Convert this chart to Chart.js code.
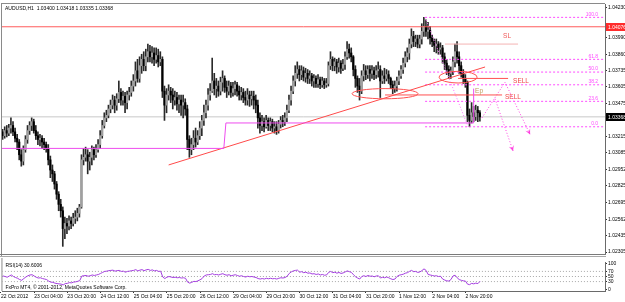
<!DOCTYPE html>
<html lang="en">
<head>
<meta charset="UTF-8">
<title>AUDUSD,H1</title>
<script src="https://cdn.jsdelivr.net/npm/chart.js"></script>
<style>
    body { margin: 0; padding: 0; background: #fff; }
    #wrap { position: relative; width: 625px; height: 302px; }
    #main-box { position: absolute; left: 0; top: 0; width: 625px; height: 258px; }
    #rsi-box { position: absolute; left: 0; top: 258px; width: 625px; height: 44px; }
</style>
</head>
<body>
<div id="wrap">
    <div id="main-box"><canvas id="priceChart"></canvas></div>
    <div id="rsi-box"><canvas id="rsiChart"></canvas></div>
</div>
<script>
// AUDUSD H1 bars, 22 Oct 2012 12:00 onwards (one entry per hour)
const open = [
 1.0321,1.0325,1.0322,1.0326,1.0324,1.0328,1.0330,1.0325,1.0320,1.0317,
 1.0307,1.0302,1.0311,1.0319,1.0326,1.0330,1.0333,1.0326,1.0322,1.0319,
 1.0320,1.0317,1.0315,1.0312,1.0303,1.0295,1.0292,1.0284,1.0276,1.0268,
 1.0263,1.0249,1.0253,1.0251,1.0255,1.0253,1.0257,1.0258,1.0261,1.0266,
 1.0303,1.0305,1.0307,1.0302,1.0305,1.0311,1.0307,1.0311,1.0315,1.0322,
 1.0330,1.0336,1.0338,1.0343,1.0346,1.0350,1.0346,1.0351,1.0356,1.0350,
 1.0353,1.0348,1.0354,1.0356,1.0361,1.0365,1.0373,1.0367,1.0377,1.0382,
 1.0377,1.0384,1.0388,1.0384,1.0387,1.0382,1.0385,1.0380,1.0382,1.0357,
 1.0346,1.0354,1.0357,1.0354,1.0350,1.0352,1.0347,1.0350,1.0346,1.0348,
 1.0343,1.0319,1.0311,1.0315,1.0320,1.0317,1.0322,1.0328,1.0334,1.0340,
 1.0346,1.0354,1.0357,1.0365,1.0359,1.0361,1.0357,1.0364,1.0367,1.0360,
 1.0357,1.0361,1.0356,1.0359,1.0362,1.0357,1.0354,1.0356,1.0352,1.0350,
 1.0354,1.0351,1.0353,1.0350,1.0346,1.0336,1.0330,1.0333,1.0329,1.0334,
 1.0330,1.0333,1.0328,1.0329,1.0326,1.0331,1.0334,1.0333,1.0336,1.0342,
 1.0350,1.0357,1.0365,1.0371,1.0374,1.0370,1.0373,1.0368,1.0371,1.0367,
 1.0369,1.0365,1.0367,1.0363,1.0366,1.0362,1.0365,1.0362,1.0363,1.0377,
 1.0382,1.0377,1.0380,1.0376,1.0379,1.0375,1.0378,1.0384,1.0390,1.0387,
 1.0384,1.0374,1.0367,1.0361,1.0357,1.0369,1.0373,1.0370,1.0374,1.0371,
 1.0373,1.0370,1.0373,1.0374,1.0365,1.0369,1.0367,1.0370,1.0367,1.0362,
 1.0359,1.0361,1.0365,1.0369,1.0374,1.0379,1.0384,1.0387,1.0394,1.0400,
 1.0396,1.0398,1.0394,1.0398,1.0404,1.0408,1.0404,1.0405,1.0399,1.0396,
 1.0393,1.0394,1.0390,1.0391,1.0384,1.0379,1.0374,1.0371,1.0373,1.0380,
 1.0388,1.0384,1.0377,1.0371,1.0367,1.0364,1.0338,1.0334,1.0340,1.0337,
 1.0342,1.03400
];
const high = [
 1.0328,1.0327,1.0329,1.0330,1.0331,1.0336,1.0333,1.0328,1.0323,1.0319,
 1.0311,1.0314,1.0322,1.0330,1.0333,1.0336,1.0335,1.0330,1.0325,1.0323,
 1.0322,1.0320,1.0317,1.0315,1.0306,1.0299,1.0294,1.0286,1.0278,1.0272,
 1.0266,1.0258,1.0257,1.0259,1.0258,1.0261,1.0263,1.0265,1.0268,1.0307,
 1.0312,1.0313,1.0311,1.0309,1.0314,1.0313,1.0315,1.0319,1.0326,1.0334,
 1.0340,1.0342,1.0346,1.0350,1.0354,1.0353,1.0355,1.0365,1.0359,1.0357,
 1.0356,1.0357,1.0360,1.0365,1.0370,1.0380,1.0382,1.0384,1.0386,1.0388,
 1.0390,1.0394,1.0393,1.0392,1.0391,1.0391,1.0390,1.0388,1.0384,1.0361,
 1.0359,1.0362,1.0360,1.0359,1.0357,1.0356,1.0354,1.0354,1.0354,1.0351,
 1.0346,1.0322,1.0320,1.0326,1.0328,1.0326,1.0333,1.0338,1.0346,1.0350,
 1.0359,1.0363,1.0383,1.0371,1.0367,1.0365,1.0368,1.0373,1.0369,1.0365,
 1.0365,1.0364,1.0364,1.0365,1.0364,1.0361,1.0360,1.0359,1.0357,1.0359,
 1.0357,1.0357,1.0357,1.0354,1.0350,1.0340,1.0338,1.0336,1.0338,1.0336,
 1.0336,1.0335,1.0333,1.0333,1.0334,1.0337,1.0338,1.0340,1.0346,1.0354,
 1.0361,1.0369,1.0377,1.0380,1.0377,1.0377,1.0376,1.0375,1.0374,1.0373,
 1.0371,1.0370,1.0369,1.0370,1.0368,1.0368,1.0367,1.0367,1.0380,1.0388,
 1.0384,1.0383,1.0382,1.0383,1.0381,1.0382,1.0388,1.0396,1.0394,1.0391,
 1.0385,1.0377,1.0369,1.0367,1.0373,1.0378,1.0377,1.0377,1.0377,1.0377,
 1.0376,1.0377,1.0380,1.0377,1.0373,1.0375,1.0374,1.0373,1.0368,1.0365,
 1.0365,1.0368,1.0373,1.0377,1.0383,1.0388,1.0391,1.0398,1.0406,1.0404,
 1.0401,1.0401,1.0401,1.0410,1.0415,1.0413,1.0411,1.0408,1.0401,1.0398,
 1.0398,1.0396,1.0395,1.0393,1.0387,1.0382,1.0377,1.0376,1.0384,1.0394,
 1.0396,1.0388,1.0380,1.0374,1.0370,1.0365,1.0343,1.0348,1.0345,1.0346,
 1.0345,1.03418
];
const low = [
 1.0319,1.0319,1.0320,1.0321,1.0322,1.0324,1.0322,1.0317,1.0311,1.0303,
 1.0298,1.0299,1.0309,1.0316,1.0323,1.0326,1.0324,1.0319,1.0315,1.0314,
 1.0312,1.0311,1.0309,1.0299,1.0289,1.0286,1.0280,1.0272,1.0263,1.0258,
 1.0235,1.0241,1.0245,1.0248,1.0249,1.0251,1.0253,1.0255,1.0258,1.0265,
 1.0299,1.0302,1.0292,1.0295,1.0299,1.0303,1.0305,1.0309,1.0312,1.0320,
 1.0328,1.0333,1.0336,1.0340,1.0343,1.0340,1.0342,1.0348,1.0346,1.0346,
 1.0340,1.0343,1.0350,1.0353,1.0357,1.0361,1.0364,1.0364,1.0371,1.0373,
 1.0373,1.0380,1.0380,1.0379,1.0377,1.0379,1.0376,1.0377,1.0352,1.0334,
 1.0340,1.0350,1.0348,1.0343,1.0346,1.0342,1.0340,1.0338,1.0336,1.0338,
 1.0311,1.0305,1.0307,1.0311,1.0313,1.0315,1.0319,1.0322,1.0330,1.0336,
 1.0342,1.0350,1.0356,1.0354,1.0352,1.0353,1.0354,1.0357,1.0356,1.0352,
 1.0354,1.0352,1.0353,1.0354,1.0353,1.0350,1.0350,1.0348,1.0346,1.0346,
 1.0345,1.0346,1.0343,1.0340,1.0328,1.0324,1.0326,1.0325,1.0328,1.0326,
 1.0326,1.0325,1.0324,1.0323,1.0324,1.0328,1.0329,1.0330,1.0333,1.0340,
 1.0346,1.0355,1.0361,1.0367,1.0365,1.0366,1.0365,1.0364,1.0363,1.0363,
 1.0361,1.0360,1.0360,1.0360,1.0359,1.0360,1.0359,1.0360,1.0361,1.0374,
 1.0373,1.0373,1.0371,1.0372,1.0371,1.0373,1.0374,1.0382,1.0383,1.0380,
 1.0369,1.0360,1.0356,1.0350,1.0355,1.0365,1.0366,1.0367,1.0365,1.0367,
 1.0366,1.0367,1.0368,1.0352,1.0363,1.0363,1.0365,1.0363,1.0359,1.0355,
 1.0356,1.0357,1.0362,1.0367,1.0371,1.0376,1.0380,1.0382,1.0391,1.0392,
 1.0392,1.0391,1.0391,1.0394,1.0400,1.0400,1.0398,1.0394,1.0392,1.0388,
 1.0387,1.0386,1.0386,1.0379,1.0374,1.0370,1.0367,1.0367,1.0370,1.0376,
 1.0379,1.0371,1.0368,1.0363,1.0360,1.0333,1.0329,1.0332,1.0333,1.0334,
 1.0333,1.03335
];
const close = [
 1.0325,1.0322,1.0326,1.0324,1.0328,1.0330,1.0325,1.0320,1.0317,1.0307,
 1.0302,1.0311,1.0319,1.0326,1.0330,1.0333,1.0326,1.0322,1.0319,1.0320,
 1.0317,1.0315,1.0312,1.0303,1.0295,1.0292,1.0284,1.0276,1.0268,1.0263,
 1.0249,1.0253,1.0251,1.0255,1.0253,1.0257,1.0258,1.0261,1.0266,1.0303,
 1.0305,1.0307,1.0302,1.0305,1.0311,1.0307,1.0311,1.0315,1.0322,1.0330,
 1.0336,1.0338,1.0343,1.0346,1.0350,1.0346,1.0351,1.0356,1.0350,1.0353,
 1.0348,1.0354,1.0356,1.0361,1.0365,1.0373,1.0367,1.0377,1.0382,1.0377,
 1.0384,1.0388,1.0384,1.0387,1.0382,1.0385,1.0380,1.0382,1.0357,1.0346,
 1.0354,1.0357,1.0354,1.0350,1.0352,1.0347,1.0350,1.0346,1.0348,1.0343,
 1.0319,1.0311,1.0315,1.0320,1.0317,1.0322,1.0328,1.0334,1.0340,1.0346,
 1.0354,1.0357,1.0365,1.0359,1.0361,1.0357,1.0364,1.0367,1.0360,1.0357,
 1.0361,1.0356,1.0359,1.0362,1.0357,1.0354,1.0356,1.0352,1.0350,1.0354,
 1.0351,1.0353,1.0350,1.0346,1.0336,1.0330,1.0333,1.0329,1.0334,1.0330,
 1.0333,1.0328,1.0329,1.0326,1.0331,1.0334,1.0333,1.0336,1.0342,1.0350,
 1.0357,1.0365,1.0371,1.0374,1.0370,1.0373,1.0368,1.0371,1.0367,1.0369,
 1.0365,1.0367,1.0363,1.0366,1.0362,1.0365,1.0362,1.0363,1.0377,1.0382,
 1.0377,1.0380,1.0376,1.0379,1.0375,1.0378,1.0384,1.0390,1.0387,1.0384,
 1.0374,1.0367,1.0361,1.0357,1.0369,1.0373,1.0370,1.0374,1.0371,1.0373,
 1.0370,1.0373,1.0374,1.0365,1.0369,1.0367,1.0370,1.0367,1.0362,1.0359,
 1.0361,1.0365,1.0369,1.0374,1.0379,1.0384,1.0387,1.0394,1.0400,1.0396,
 1.0398,1.0394,1.0398,1.0404,1.0408,1.0404,1.0405,1.0399,1.0396,1.0393,
 1.0394,1.0390,1.0391,1.0384,1.0379,1.0374,1.0371,1.0373,1.0380,1.0388,
 1.0384,1.0377,1.0371,1.0367,1.0364,1.0338,1.0334,1.0340,1.0337,1.0342,
 1.03400,1.03368
];
// RSI(14) per bar
const rsi = [
 48,52,50,47,52,56,50,46,43,38,
 35,42,48,53,56,57,52,47,44,45,
 42,40,38,32,28,27,24,22,21,20,
 17,22,23,26,25,28,29,31,34,52,
 53,54,51,53,56,54,56,58,62,66,
 70,71,73,74,75,71,73,74,70,71,
 67,70,71,73,74,77,72,75,77,73,
 76,78,74,76,72,74,70,71,48,42,
 47,50,48,46,47,45,46,44,45,43,
 28,24,27,31,30,33,37,42,52,56,
 57,58,61,57,58,56,59,61,57,55,
 57,53,55,57,54,51,53,50,48,51,
 49,50,48,46,42,40,42,40,43,41,
 43,41,42,40,43,45,44,46,51,62,
 68,72,74,75,67,69,65,67,63,64,
 60,61,58,60,56,58,55,56,66,70,
 65,67,63,66,62,64,68,72,69,66,
 57,49,44,40,50,53,50,54,51,52,
 49,52,53,44,47,45,48,45,41,38,
 40,50,55,57,59,63,65,70,74,69,
 70,66,68,73,80,74,58,56,54,52,
 53,50,51,40,36,33,32,38,52,55,
 45,38,35,33,32,20,18,23,21,24,
 22,30.6006
];

const symbol = 'AUDUSD';
const period = 'H1';
const timeTicks = [0, 16, 32, 48, 64, 80, 96, 112, 128, 144, 160, 176, 192, 208, 224];
const timeLabels = ['22 Oct 2012', '23 Oct 04:00', '23 Oct 20:00', '24 Oct 12:00', '25 Oct 04:00',
    '25 Oct 20:00', '26 Oct 12:00', '29 Oct 04:00', '29 Oct 20:00', '30 Oct 12:00',
    '31 Oct 04:00', '31 Oct 20:00', '1 Nov 12:00', '2 Nov 04:00', '2 Nov 20:00'];
const priceTicks = [1.04230, 1.03990, 1.03860, 1.03735, 1.03605, 1.03475, 1.03215, 1.03085,
    1.02952, 1.02825, 1.02695, 1.02562, 1.02435, 1.02305];
const rsiTicks = [0, 30, 50, 70, 100];
const rsiLevels = [30, 50, 70];

// objects drawn on the chart (x = bar number, y = price)
const trendLine = [{ x: 81, y: 1.0299 }, { x: 233.5, y: 1.0376 }];
const stopLine = [{ x: 0, y: 1.0312 }, { x: 107.6, y: 1.0312 }, { x: 108.6, y: 1.0332 },
    { x: 228, y: 1.0332 }, { x: 228, y: 1.0359 }];
const redLevel = 1.04076;
const slLine = [{ x: 214.2, y: 1.0394 }, { x: 249.4, y: 1.0394 }];
const sellLineHigh = [{ x: 220.5, y: 1.0367 }, { x: 244.6, y: 1.0367 }];
const sellLineLow = [{ x: 185.3, y: 1.0354 }, { x: 241.7, y: 1.0354 }];
const fibLevels = [1.0415, 1.0382, 1.0372, 1.0362, 1.0349, 1.0329];
const fibNames = ['100.0', '61.8', '50.0', '38.2', '23.6', '0.0'];
const fibStart = 204.6;
const fibLabelAt = 288;
const fibDiagonal = [{ x: 204.6, y: 1.0415 }, { x: 225.3, y: 1.0329 }];
const arrowPathA = [{ x: 232, y: 1.0336 }, { x: 243.1, y: 1.0364 }, { x: 255.2, y: 1.0323 }];
const arrowPathB = [{ x: 238.3, y: 1.0351 }, { x: 247, y: 1.0310 }];
const ellipses = [
    { x: 185.3, y: 1.0355, rx: 15.9, ry: 0.00040 },
    { x: 220.5, y: 1.0368, rx: 9.2, ry: 0.00046 }
];
const notes = [
    { text: 'SL', x: 242.2, y: 1.0400, color: '#f05a5a' },
    { text: 'SELL', x: 247.0, y: 1.0365, color: '#f04848' },
    { text: 'SELL', x: 243.1, y: 1.0352, color: '#f04848' },
    { text: 'Ep', x: 228.7, y: 1.0357, color: '#c09a5a' }
];

const FONT = '"Liberation Sans", Arial, sans-serif';
Chart.defaults.font.family = FONT;
Chart.defaults.font.size = 5;
Chart.defaults.color = '#000';

const xMin = 0.7, xMax = 291.3;
const lastBar = close.length - 1;

const bodyData = open.map((o, i) => ({ x: i, y: [o, close[i]] }));
const wickData = low.map((l, i) => ({ x: i, y: [l, high[i]] }));
const bodyColors = open.map((o, i) => close[i] > o ? '#a0a0a0' : '#000000');

function hLine(price, from, to) {
    return [{ x: from, y: price }, { x: to, y: price }];
}

function lineSet(data, color, extra) {
    return Object.assign({
        type: 'line', data: data, borderColor: color, borderWidth: 1,
        pointRadius: 0, fill: false, tension: 0, order: 0
    }, extra || {});
}

const fibSets = fibLevels.map(v => lineSet(hLine(v, fibStart, xMax + 1), '#ff4cff', { borderDash: [2, 2] }));

const mainDecor = {
    id: 'mainDecor',
    afterDatasetsDraw(chart) {
        const { ctx, chartArea: a, scales: { x, y } } = chart;
        ctx.save();
        ctx.beginPath();
        ctx.rect(a.left, a.top, a.right - a.left, a.bottom - a.top);
        ctx.clip();

        // ellipses
        ctx.strokeStyle = '#ff5050';
        ctx.lineWidth = 1;
        ellipses.forEach(e => {
            const cx = x.getPixelForValue(e.x), cy = y.getPixelForValue(e.y);
            const rx = Math.abs(x.getPixelForValue(e.x + e.rx) - cx);
            const ry = Math.abs(y.getPixelForValue(e.y + e.ry) - cy);
            ctx.beginPath();
            ctx.ellipse(cx, cy, rx, ry, 0, 0, Math.PI * 2);
            ctx.stroke();
        });

        // arrow heads at the end of the arrow paths
        chart.data.datasets.forEach((ds, di) => {
            if (!ds.arrowHead) return;
            const pts = chart.getDatasetMeta(di).data;
            const p1 = pts[pts.length - 2], p2 = pts[pts.length - 1];
            const ang = Math.atan2(p2.y - p1.y, p2.x - p1.x);
            ctx.beginPath();
            ctx.moveTo(p2.x, p2.y);
            ctx.lineTo(p2.x - 6 * Math.cos(ang - 0.45), p2.y - 6 * Math.sin(ang - 0.45));
            ctx.lineTo(p2.x - 3 * Math.cos(ang), p2.y - 3 * Math.sin(ang));
            ctx.lineTo(p2.x - 6 * Math.cos(ang + 0.45), p2.y - 6 * Math.sin(ang + 0.45));
            ctx.closePath();
            ctx.fillStyle = ds.borderColor;
            ctx.fill();
        });

        // fibo level names
        ctx.font = '5px ' + FONT;
        ctx.fillStyle = '#ff4cff';
        ctx.textAlign = 'right';
        ctx.textBaseline = 'bottom';
        fibLevels.forEach((v, i) => {
            ctx.fillText(fibNames[i], x.getPixelForValue(fibLabelAt), y.getPixelForValue(v) - 0.5);
        });

        // text objects
        ctx.font = '6.5px ' + FONT;
        ctx.textAlign = 'left';
        ctx.textBaseline = 'middle';
        notes.forEach(n => {
            ctx.fillStyle = n.color;
            ctx.fillText(n.text, x.getPixelForValue(n.x), y.getPixelForValue(n.y));
        });

        // header
        ctx.font = '5px ' + FONT;
        ctx.fillStyle = '#000';
        const last = [open, high, low, close].map(s => s[lastBar].toFixed(5)).join(' ');
        ctx.fillText(symbol + ',' + period + '  ' + last, a.left + 3, a.top + 4.5);
        ctx.restore();
    },
    afterDraw(chart) {
        const { ctx, chartArea: a, scales: { y } } = chart;
        ctx.save();
        // window frame
        ctx.fillStyle = '#8a8a8a';
        ctx.fillRect(a.left - 1, a.top - 1, 1, a.bottom - a.top + 3);
        ctx.fillRect(a.left - 1, a.top - 1, a.right - a.left + 1, 1);
        ctx.fillStyle = '#7a7a7a';
        ctx.fillRect(0, a.bottom, a.right + 1, 1);
        ctx.fillStyle = '#a8a8a8';
        ctx.fillRect(0, a.bottom + 2, a.right + 1, 1);
        // price boxes on the axis
        ctx.font = '5px ' + FONT;
        ctx.textAlign = 'left';
        ctx.textBaseline = 'middle';
        [[redLevel, '#ff2b2b'], [close[lastBar], '#000']].forEach(([v, bg]) => {
            const py = Math.round(y.getPixelForValue(v));
            ctx.fillStyle = bg;
            ctx.fillRect(a.right + 1, py - 4, 20, 8);
            ctx.fillStyle = '#fff';
            ctx.fillText(v.toFixed(5), a.right + 3, py + 0.5);
        });
        ctx.restore();
    }
};

const rsiDecor = {
    id: 'rsiDecor',
    afterDraw(chart) {
        const { ctx, chartArea: a } = chart;
        ctx.save();
        ctx.fillStyle = '#8a8a8a';
        ctx.fillRect(a.left - 1, 0, 1, a.bottom - 0);
        ctx.font = '5px ' + FONT;
        ctx.fillStyle = '#000';
        ctx.textAlign = 'left';
        ctx.textBaseline = 'middle';
        ctx.fillText('RSI(14) ' + rsi[lastBar].toFixed(4), a.left + 3, a.top + 4);
        ctx.fillText('FxPro MT4, \u00a9 2001-2012, MetaQuotes Software Corp.', a.left + 3, a.bottom - 3);
        ctx.restore();
    }
};

const priceChart = new Chart(document.getElementById('priceChart'), {
    type: 'bar',
    data: {
        datasets: [
            { data: wickData, backgroundColor: '#2a2a2a', barThickness: 1, grouped: false, order: 3 },
            { data: bodyData, backgroundColor: bodyColors, barThickness: 1.5, grouped: false, minBarLength: 1, order: 2 },
            lineSet(hLine(close[lastBar], -1, xMax + 1), '#c8c8c8', { order: 4 }),
            lineSet(stopLine, '#ee4cee'),
            lineSet(trendLine, '#ff4a4a'),
            lineSet(hLine(redLevel, -1, xMax + 1), '#ff5c5c'),
            lineSet(slLine, '#f4b4b4'),
            lineSet(sellLineHigh, '#ff5050'),
            lineSet(sellLineLow, '#ff5050'),
            ...fibSets,
            lineSet(fibDiagonal, '#ff6cff', { borderDash: [1, 2] }),
            lineSet(arrowPathA, '#ff40e0', { borderDash: [1, 2], arrowHead: true }),
            lineSet(arrowPathB, '#ff40e0', { borderDash: [1, 2], arrowHead: true })
        ]
    },
    options: {
        animation: false,
        responsive: true,
        maintainAspectRatio: false,
        devicePixelRatio: 1,
        layout: { padding: { left: 2, top: 2, right: 0, bottom: 3 }, autoPadding: false },
        plugins: { legend: { display: false }, tooltip: { enabled: false } },
        scales: {
            x: { type: 'linear', min: xMin, max: xMax, offset: false, display: false },
            y: {
                position: 'right',
                min: 1.0229, max: 1.04255,
                afterBuildTicks: s => { s.ticks = priceTicks.map(v => ({ value: v })); },
                afterFit: s => { s.width = 20; },
                ticks: { autoSkip: false, padding: 1, font: { size: 5 }, callback: v => v.toFixed(5) },
                grid: { drawOnChartArea: false, tickLength: 2, color: '#333' },
                border: { display: true, color: '#6a6a6a' }
            }
        }
    },
    plugins: [mainDecor]
});

const rsiChart = new Chart(document.getElementById('rsiChart'), {
    type: 'line',
    data: {
        datasets: [
            lineSet(rsi.map((v, i) => ({ x: i, y: v })), '#a43ee0'),
            ...rsiLevels.map(v => lineSet(hLine(v, -1, xMax + 1), '#a8a8a8', { borderDash: [1, 2], order: 2 }))
        ]
    },
    options: {
        animation: false,
        responsive: true,
        maintainAspectRatio: false,
        devicePixelRatio: 1,
        layout: { padding: { left: 2, top: 1, right: 0, bottom: 0 }, autoPadding: false },
        plugins: { legend: { display: false }, tooltip: { enabled: false } },
        scales: {
            x: {
                type: 'linear', min: xMin, max: xMax, offset: false,
                afterBuildTicks: s => { s.ticks = timeTicks.map(v => ({ value: v })); },
                afterFit: s => { s.height = 11; },
                ticks: {
                    autoSkip: false, maxRotation: 0, minRotation: 0, align: 'start', padding: 1,
                    font: { size: 5 }, callback: v => timeLabels[timeTicks.indexOf(v)]
                },
                grid: { drawOnChartArea: false, tickLength: 2, color: '#333' },
                border: { display: true, color: '#6a6a6a' }
            },
            y: {
                position: 'right', min: -7, max: 107,
                afterBuildTicks: s => { s.ticks = rsiTicks.map(v => ({ value: v })); },
                afterFit: s => { s.width = 20; },
                ticks: { autoSkip: false, padding: 1, font: { size: 5 } },
                grid: { drawOnChartArea: false, tickLength: 2, color: '#333' },
                border: { display: true, color: '#6a6a6a' }
            }
        }
    },
    plugins: [rsiDecor]
});
</script>
</body>
</html>
